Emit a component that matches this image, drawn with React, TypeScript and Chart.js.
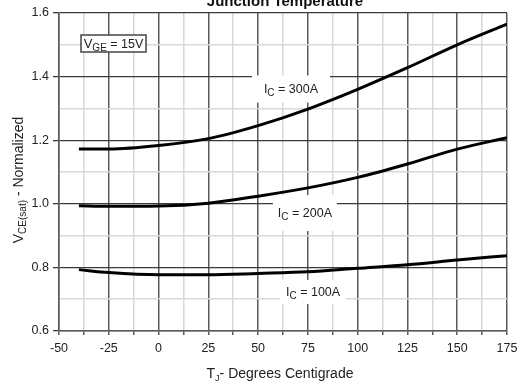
import React, { useEffect, useRef } from "react";
import { Chart, registerables } from "chart.js";

Chart.register(...registerables);

const temps = [-40, -25, 0, 25, 50, 75, 100, 125, 150, 175];
const ic300 = [1.172, 1.172, 1.183, 1.205, 1.246, 1.298, 1.36, 1.428, 1.5, 1.565];
const ic200 = [0.994, 0.992, 0.993, 1.002, 1.024, 1.05, 1.083, 1.125, 1.172, 1.208];
const ic100 = [0.793, 0.784, 0.777, 0.777, 0.781, 0.786, 0.797, 0.808, 0.823, 0.837];

const xTickLabels = ["-50", "-25", "0", "25", "50", "75", "100", "125", "150", "175"];
const yTickLabels = ["0.6", "0.8", "1.0", "1.2", "1.4", "1.6"];

const curveLabels = [
  { main: "I", sub: "C", rest: " = 300A", x: 66.5, y: 1.361, w: 78, h: 27 },
  { main: "I", sub: "C", rest: " = 200A", x: 73.5, y: 0.971, w: 64, h: 36 },
  { main: "I", sub: "C", rest: " = 100A", x: 77.6, y: 0.723, w: 66, h: 24 },
];

const FONT = '"Liberation Sans", Arial, sans-serif';

type Part = { t: string; size: number; sub?: boolean; bold?: boolean };

function drawRich(ctx: CanvasRenderingContext2D, parts: Part[], cx: number, cy: number) {
  let total = 0;
  const widths = parts.map((p) => {
    ctx.font = `${p.bold ? "bold " : ""}${p.size}px ${FONT}`;
    const w = ctx.measureText(p.t).width;
    total += w;
    return w;
  });
  let x = cx - total / 2;
  ctx.textAlign = "left";
  ctx.textBaseline = "alphabetic";
  parts.forEach((p, i) => {
    ctx.font = `${p.bold ? "bold " : ""}${p.size}px ${FONT}`;
    ctx.fillText(p.t, x, cy + (p.sub ? 3 : 0));
    x += widths[i];
  });
}

const annotPlugin = {
  id: "annot",
  beforeDatasetsDraw(chart: any) {
    const ctx = chart.ctx as CanvasRenderingContext2D;
    const xs = chart.scales.x;
    const ys = chart.scales.y;
    const area = chart.chartArea;
    ctx.save();
    curveLabels.forEach((l) => {
      const px = xs.getPixelForValue(l.x);
      const py = ys.getPixelForValue(l.y);
      ctx.fillStyle = "#fff";
      ctx.fillRect(px - l.w / 2, py - l.h / 2, l.w, l.h);
      ctx.fillStyle = "#222";
      drawRich(
        ctx,
        [
          { t: l.main, size: 12.5 },
          { t: l.sub, size: 10, sub: true },
          { t: l.rest, size: 12.5 },
        ],
        px,
        py + 4
      );
    });
    const bx = area.left + 22;
    const by = area.top + 22;
    const bw = 65;
    const bh = 17;
    ctx.fillStyle = "#fff";
    ctx.fillRect(bx, by, bw, bh);
    ctx.strokeStyle = "#444";
    ctx.lineWidth = 1.5;
    ctx.strokeRect(bx, by, bw, bh);
    ctx.fillStyle = "#222";
    drawRich(
      ctx,
      [
        { t: "V", size: 13 },
        { t: "GE", size: 10, sub: true },
        { t: " = 15V", size: 12.5 },
      ],
      bx + bw / 2,
      by + 13
    );
    ctx.restore();
  },
  afterDraw(chart: any) {
    const ctx = chart.ctx as CanvasRenderingContext2D;
    const area = chart.chartArea;
    ctx.save();
    ctx.fillStyle = "#111";
    drawRich(ctx, [{ t: "Junction Temperature", size: 15, bold: true }], (area.left + area.right) / 2 + 2, 6);
    ctx.fillStyle = "#222";
    drawRich(
      ctx,
      [
        { t: "T", size: 14 },
        { t: "J", size: 9, sub: true },
        { t: "- Degrees Centigrade", size: 14 },
      ],
      (area.left + area.right) / 2 - 3,
      378
    );
    ctx.translate(23, (area.top + area.bottom) / 2 + 8);
    ctx.rotate(-Math.PI / 2);
    drawRich(
      ctx,
      [
        { t: "V", size: 14 },
        { t: "CE(sat)", size: 10, sub: true },
        { t: " - Normalized", size: 14 },
      ],
      0,
      0
    );
    ctx.restore();
  },
};

export default function App() {
  const ref = useRef<HTMLCanvasElement | null>(null);
  useEffect(() => {
    if (!ref.current) return;
    const isMajorX = (v: number) => Math.abs(v % 25) < 1e-6;
    const isMajorY = (v: number) => Math.round(v * 10) % 2 === 0;
    const mk = (vals: number[]) => temps.map((t, i) => ({ x: t, y: vals[i] }));
    const ds = (vals: number[]) => ({
      data: mk(vals),
      borderColor: "#000",
      borderWidth: 3,
      pointRadius: 0,
      fill: false,
      cubicInterpolationMode: "monotone" as const,
    });
    const chart = new Chart(ref.current, {
      type: "line",
      data: { datasets: [ds(ic300), ds(ic200), ds(ic100)] },
      plugins: [annotPlugin],
      options: {
        animation: false,
        responsive: false,
        maintainAspectRatio: false,
        layout: { padding: { top: 13, right: 25, left: 0, bottom: 0 } },
        plugins: { legend: { display: false }, title: { display: false }, tooltip: { enabled: false } },
        scales: {
          x: {
            type: "linear",
            min: -50,
            max: 175,
            afterFit: (s: any) => {
              s.height = 56;
            },
            afterBuildTicks: (s: any) => {
              const t: any[] = [];
              for (let v = -50; v <= 175; v += 12.5) t.push({ value: v });
              s.ticks = t;
            },
            ticks: {
              autoSkip: false,
              maxRotation: 0,
              padding: 6,
              color: "#222",
              font: { family: FONT, size: 12.5 },
              callback: (v: any) => {
                const n = Number(v);
                if (!isMajorX(n)) return "";
                const idx = Math.round((n + 50) / 25);
                return xTickLabels[idx];
              },
            },
            grid: {
              color: (c: any) => (c.tick && isMajorX(c.tick.value) ? "#5a5a5a" : "#d8d8d8"),
              lineWidth: 1.5,
              tickLength: 4,
              tickColor: "#5a5a5a",
            },
            border: { color: "#5a5a5a", width: 1.5 },
          },
          y: {
            type: "linear",
            min: 0.6,
            max: 1.6,
            afterFit: (s: any) => {
              s.width = 59;
            },
            afterBuildTicks: (s: any) => {
              const t: any[] = [];
              for (let i = 6; i <= 16; i++) t.push({ value: i / 10 });
              s.ticks = t;
            },
            ticks: {
              autoSkip: false,
              padding: 4,
              color: "#222",
              font: { family: FONT, size: 12.5 },
              callback: (v: any) => {
                const n = Number(v);
                if (!isMajorY(n)) return "";
                return yTickLabels[Math.round((n - 0.6) * 5)];
              },
            },
            grid: {
              color: (c: any) => (c.tick && isMajorY(c.tick.value) ? "#3a3a3a" : "#d8d8d8"),
              lineWidth: (c: any) => (c.tick && isMajorY(c.tick.value) ? 1.3 : 1.5),
              tickLength: 6,
              tickColor: (c: any) => (c.tick && isMajorY(c.tick.value) ? "#3a3a3a" : "rgba(0,0,0,0)"),
            },
            border: { color: "#5a5a5a", width: 1.5 },
          },
        },
      },
    });
    return () => chart.destroy();
  }, []);
  return (
    <div style={{ position: "fixed", left: 0, top: 0, width: 532, height: 387, background: "#fff" }}>
      <canvas ref={ref} width={532} height={387} style={{ width: 532, height: 387, display: "block" }} />
    </div>
  );
}
